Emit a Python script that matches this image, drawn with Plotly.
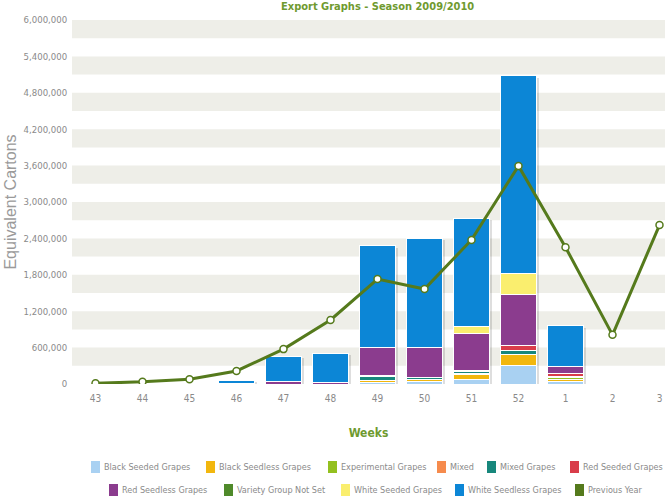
import plotly.graph_objects as go

# ---------------- data ----------------
weeks = ["43", "44", "45", "46", "47", "48", "49", "50", "51", "52", "1", "2", "3"]

black_seeded     = [0, 0, 0, 0, 0, 0, 25000, 35000, 80000, 300000, 40000, 0, 0]
black_seedless   = [0, 0, 0, 0, 0, 0, 25000, 35000, 70000, 180000, 40000, 0, 0]
experimental     = [0, 0, 0, 0, 0, 0, 0, 0, 25000, 0, 20000, 0, 0]
mixed            = [0, 0, 0, 0, 0, 0, 0, 0, 0, 0, 20000, 0, 0]
mixed_grapes     = [0, 0, 0, 0, 0, 0, 70000, 45000, 30000, 70000, 0, 0, 0]
red_seeded       = [0, 0, 0, 0, 0, 0, 20000, 0, 15000, 80000, 55000, 0, 0]
red_seedless     = [0, 0, 0, 5000, 35000, 30000, 460000, 490000, 620000, 840000, 120000, 0, 0]
variety_not_set  = [0, 0, 0, 0, 0, 0, 0, 0, 0, 0, 0, 0, 0]
white_seeded     = [0, 0, 0, 0, 0, 0, 0, 0, 100000, 350000, 0, 0, 0]
white_seedless   = [0, 0, 0, 60000, 425000, 480000, 1680000, 1800000, 1790000, 3260000, 665000, 0, 0]
previous_year    = [12000, 36000, 80000, 215000, 575000, 1055000, 1730000, 1565000,
                    2375000, 3595000, 2255000, 810000, 2620000]

series_names = ["Black Seeded Grapes", "Black Seedless Grapes", "Experimental Grapes", "Mixed",
                "Mixed Grapes", "Red Seeded Grapes", "Red Seedless Grapes", "Variety Group Not Set",
                "White Seeded Grapes", "White Seedless Grapes"]
series_values = [black_seeded, black_seedless, experimental, mixed, mixed_grapes, red_seeded,
                 red_seedless, variety_not_set, white_seeded, white_seedless]
line_name = "Previous Year"

title_text = "Export Graphs - Season 2009/2010"
y_ticks = [0, 600000, 1200000, 1800000, 2400000, 3000000, 3600000, 4200000, 4800000, 5400000, 6000000]

# ---------------- style ----------------
colors = ["#A9D1F2", "#F2B70E", "#93C01F", "#F68B4D", "#17877C", "#D93D4A",
          "#8B3C8E", "#4F8A2A", "#FAEE6E", "#0C86D6"]
prev_color = "#557A1C"
green_text = "#6F9A2F"
gray_text = "#8A8A8A"
cond = "DejaVu Sans Condensed, Liberation Sans Narrow, sans-serif"

W, H = 665, 502
L, R, T, B = 72, 0, 20, 118
PW, PH = W - L - R, H - T - B
CAT_PX = 47.0
BAR_W = 0.77
x_range = [-0.5, PW / CAT_PX - 0.5]

# legend layout (pixel positions of swatches, two centred rows)
legend_rows = [series_names[:6], series_names[6:] + [line_name]]
legend_swatch_x = [[91, 206, 328, 437, 487, 570], [109, 224, 341, 455, 575]]
legend_row_y = [467, 490]


def px_to_paper_x(px):
    return (px - L) / PW


def px_to_paper_y(py):
    return (H - B - py) / PH


fig = go.Figure()

# soft drop shadow under each stacked column (drawn first, on the base axis)
totals = [sum(v[i] for v in series_values) for i in range(len(weeks))]
shadow_base = -50000
shadow_top = [t - 30000 if t > 0 else -15000 for t in totals]
fig.add_trace(go.Bar(
    x=weeks, y=[tp - shadow_base for tp in shadow_top], base=shadow_base,
    width=BAR_W, offset=-BAR_W / 2 + 2 / CAT_PX,
    marker=dict(color="rgba(0,0,0,0.13)", line=dict(width=0)),
    cliponaxis=False, hoverinfo="skip", showlegend=False, xaxis="x", yaxis="y",
))

for i, (name, vals) in enumerate(zip(series_names, series_values)):
    fig.add_trace(go.Bar(
        x=weeks, y=vals, name=name, xaxis="x2", yaxis="y",
        marker=dict(color=colors[i], line=dict(color="white", width=1)),
    ))

fig.add_trace(go.Scatter(
    x=weeks, y=previous_year, name=line_name, mode="lines+markers", xaxis="x2", yaxis="y",
    line=dict(color=prev_color, width=3),
    marker=dict(color="white", size=7, line=dict(color=prev_color, width=1.5)),
))

# alternating grid bands
shapes = []
for v in y_ticks[1:]:
    shapes.append(dict(type="rect", xref="paper", yref="y", x0=0, x1=1,
                       y0=v - 300000, y1=v, fillcolor="#EEEEE8", line=dict(width=0),
                       layer="below"))

annotations = [dict(text="<b>" + title_text + "</b>", xref="paper", yref="paper",
                    x=px_to_paper_x(377), y=1, yshift=14, yanchor="middle", xanchor="center",
                    showarrow=False, font=dict(family=cond, size=11, color=green_text))]

# legend swatches and labels
color_of = dict(zip(series_names, colors))
color_of[line_name] = prev_color
for row, xs, py in zip(legend_rows, legend_swatch_x, legend_row_y):
    for name, sx in zip(row, xs):
        shapes.append(dict(type="rect", xref="paper", yref="paper",
                           x0=px_to_paper_x(sx), x1=px_to_paper_x(sx + 9),
                           y0=px_to_paper_y(py + 6), y1=px_to_paper_y(py - 6),
                           fillcolor=color_of[name], line=dict(width=0)))
        annotations.append(dict(text=name, xref="paper", yref="paper",
                                x=px_to_paper_x(sx + 11), y=px_to_paper_y(py),
                                xanchor="left", yanchor="middle", showarrow=False,
                                font=dict(family=cond, size=9, color=gray_text)))

fig.update_layout(
    template="none",
    width=W, height=H,
    margin=dict(l=L, r=R, t=T, b=B, pad=0),
    paper_bgcolor="white", plot_bgcolor="white",
    barmode="stack", bargap=1 - BAR_W,
    shapes=shapes, annotations=annotations,
    showlegend=False,
    font=dict(family=cond, color=gray_text),
    xaxis=dict(type="category", categoryarray=weeks, categoryorder="array", range=x_range,
               showgrid=False, zeroline=False,
               showline=False, ticks="outside", ticklen=5, tickcolor="rgba(0,0,0,0)",
               automargin=False,
               tickfont=dict(family=cond, size=10, color=gray_text),
               title=dict(text="<b>Weeks</b>", standoff=25,
                          font=dict(family=cond, size=12, color=green_text))),
    xaxis2=dict(type="category", categoryarray=weeks, categoryorder="array", range=x_range,
                overlaying="x", showgrid=False, zeroline=False, showline=False,
                showticklabels=False, ticks="", automargin=False),
    yaxis=dict(range=[0, 6000000], tickvals=y_ticks, tickformat=",", showgrid=False,
               zeroline=False, showline=False, automargin=False,
               tickfont=dict(family=cond, size=9.5, color=gray_text),
               ticks="outside", ticklen=2, tickcolor="rgba(0,0,0,0)",
               title=dict(text="Equivalent Cartons", standoff=3,
                          font=dict(family="Liberation Sans, Arial, sans-serif", size=16,
                                    color="#9A9A9A"))),
)

fig.write_html("out.html", post_script="document.body.style.margin='0';",
               config={"displayModeBar": False})
